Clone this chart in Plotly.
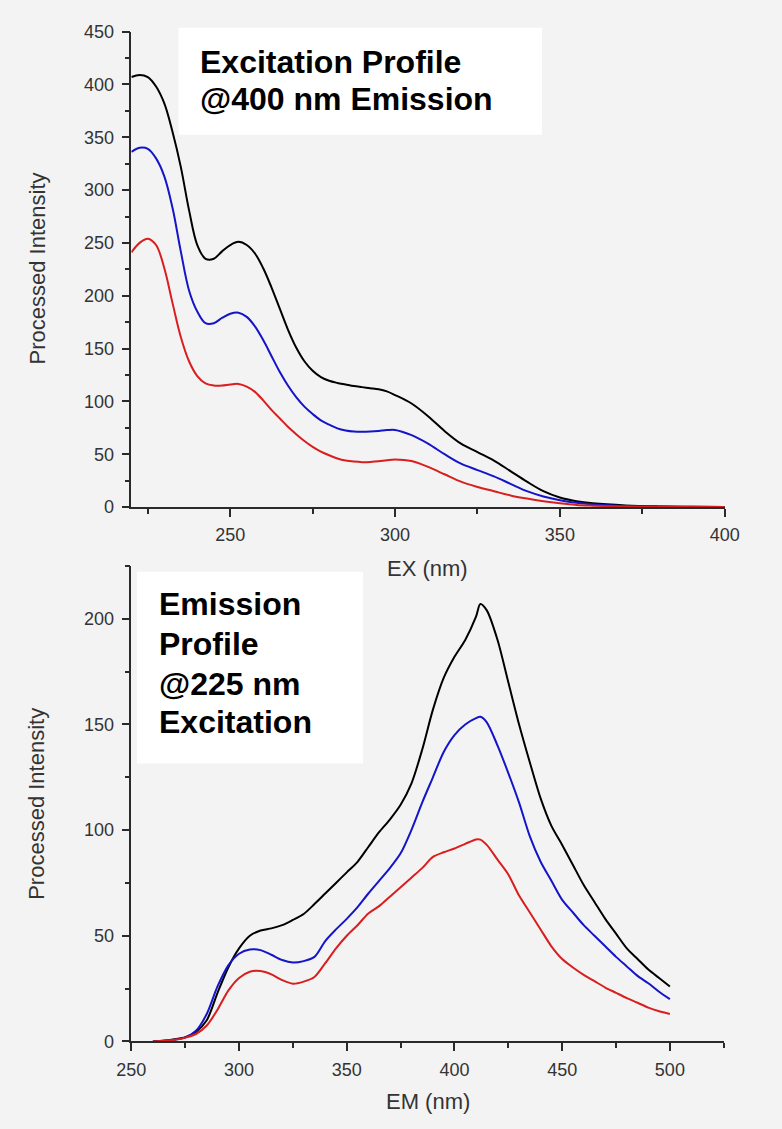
import plotly.graph_objects as go

# ---------------- Data: Excitation profile (@400 nm emission) ----------------
ex_nm = [220, 222.5, 225, 227.5, 230, 232.5, 235, 237.5, 240, 242.5, 245, 247.5,
         250, 252.5, 255, 257.5, 260, 262.5, 265, 267.5, 270, 272.5, 275, 277.5,
         280, 282.5, 285, 287.5, 290, 292.5, 295, 297.5, 300,
         305, 310, 315, 320, 325, 330, 335, 340, 345, 350, 355, 360, 370, 380,
         390, 400]
ex_black = [407, 409, 407, 398, 382, 355, 322, 281, 248, 235, 235, 242,
            248, 251, 248, 240, 226, 208, 188, 168, 151, 138, 129, 123,
            119.5, 117.5, 116, 114.5, 113.5, 112.5, 111.5, 109.5, 106,
            98, 86, 72, 60, 52, 44, 34, 24, 15, 9, 5.5, 3.5, 1.5, 0.6,
            0.2, 0]
ex_blue = [336, 340, 339, 330, 313, 283, 242, 205, 185, 174, 174, 179,
           183, 184, 180, 171, 158, 143, 128, 115, 104, 95, 88, 82,
           78, 74.5, 72.5, 71.5, 71.3, 71.5, 72, 72.8, 73,
           68, 60, 50, 41, 35, 29, 22, 15, 10, 6.5, 4, 2.5, 1, 0.4,
           0.2, 0]
ex_red = [241, 250, 254, 248, 226, 193, 161, 138, 124, 117, 115, 115,
          116, 116.5, 114, 109, 101, 92, 84, 76, 69, 62.5, 57, 52.5,
          49, 46, 44, 43, 42.5, 42.7, 43.3, 44.3, 45,
          43.5, 38, 31, 24, 19, 15, 11, 8, 5.5, 3.5, 2, 1.3, 0.5, 0.2,
          0.1, 0]

# ---------------- Data: Emission profile (@225 nm excitation) ----------------
em_nm = [260, 265, 270, 275, 280, 285, 290, 295, 300, 305, 310, 315, 320, 325,
         330, 335, 340, 345, 350, 355, 360, 365, 370, 375, 380, 385, 390, 395,
         400, 405, 410, 412, 415, 420, 425, 430, 435, 440, 445, 450, 455, 460,
         465, 470, 475, 480, 485, 490, 495, 500]
em_black = [0, 0.3, 1, 2, 4.5, 10, 23, 35, 44, 50, 52.5, 53.5, 55, 57.5,
            60.3, 65, 70, 75, 80, 85, 92, 99, 105, 112, 122, 138, 157, 172,
            182, 190, 201, 207, 204, 190, 170, 150, 132, 115, 102, 93, 83.5, 74,
            66, 58, 51, 44, 39, 34, 30, 26]
em_blue = [0, 0.3, 0.8, 1.8, 5, 13, 26, 36, 41.5, 43.5, 43.2, 41, 38.5, 37.3,
           38, 40, 47.5, 53, 58, 63.5, 70, 76, 82, 89, 100, 113, 125, 137,
           145, 150, 153, 153.6, 151, 140, 127, 113, 97, 85, 76, 67, 61, 55,
           50, 45, 40, 35.5, 31, 27.5, 23.5, 20]
em_red = [0, 0.3, 0.8, 1.8, 3.5, 7.5, 15, 24, 30, 33, 33.3, 31.7, 29, 27.3,
          28.3, 30.5, 37, 44, 50, 55, 60.5, 64, 68.5, 73, 77.5, 82, 87.3, 89.5,
          91.3, 93.5, 95.6, 95.5, 93, 86, 79, 69, 61, 53, 45, 39, 35, 31.5,
          28.5, 25.5, 23, 20.5, 18.3, 16, 14.3, 13]

series_colors = ["#000000", "#1414C8", "#D81E1E"]

W, H = 782, 1129
FONT = "Liberation Sans, Arial, sans-serif"


def px(x):
    return x / W


def py(y):
    return 1 - y / H


fig = go.Figure()
for ys, c in zip([ex_black, ex_blue, ex_red], series_colors):
    fig.add_trace(go.Scatter(x=ex_nm, y=ys, mode="lines", xaxis="x", yaxis="y",
                             line=dict(color=c, width=2, shape="spline", smoothing=1.0),
                             showlegend=False, hoverinfo="skip"))
for ys, c in zip([em_black, em_blue, em_red], series_colors):
    fig.add_trace(go.Scatter(x=em_nm, y=ys, mode="lines", xaxis="x2", yaxis="y2",
                             line=dict(color=c, width=2, shape="spline", smoothing=0.8),
                             showlegend=False, hoverinfo="skip"))

axis_common = dict(showline=True, linecolor="#2a2a2a", linewidth=1.5,
                   ticks="outside", ticklen=8, tickwidth=1.5, tickcolor="#2a2a2a",
                   showgrid=False, zeroline=False,
                   tickfont=dict(family=FONT, size=18, color="#333333"))
minor_common = dict(ticks="outside", ticklen=5, tickwidth=1.5, tickcolor="#2a2a2a")

fig.update_layout(
    width=W, height=H,
    margin=dict(l=0, r=0, t=0, b=0),
    paper_bgcolor="#f3f3f3", plot_bgcolor="#f3f3f3",
    xaxis=dict(domain=[px(121), px(738)], range=[220, 400], anchor="y",
               tickvals=[250, 300, 350, 400], ticklabelstandoff=3,
               minor=dict(tickvals=[225, 275, 325, 375], **minor_common),
               **axis_common),
    yaxis=dict(domain=[py(506), py(22)], range=[0, 450], anchor="x",
               tickvals=list(range(0, 451, 50)), ticklabelstandoff=4,
               minor=dict(dtick=25, **minor_common),
               **axis_common),
    xaxis2=dict(domain=[px(121), px(737)], range=[250, 525], anchor="y2",
                tickvals=[250, 300, 350, 400, 450, 500], ticklabelstandoff=3,
                minor=dict(dtick=25, **minor_common),
                **axis_common),
    yaxis2=dict(domain=[py(1050), py(566)], range=[0, 225], anchor="x2",
                tickvals=list(range(0, 201, 50)), ticklabelstandoff=4,
                minor=dict(dtick=25, **minor_common),
                **axis_common),
)

# white boxes behind the inset labels
fig.add_shape(type="rect", xref="paper", yref="paper",
              x0=px(170), x1=px(548), y0=py(127), y1=py(18),
              fillcolor="white", line=dict(width=0), layer="above")
fig.add_shape(type="rect", xref="paper", yref="paper",
              x0=px(127), x1=px(362), y0=py(767), y1=py(572),
              fillcolor="white", line=dict(width=0), layer="above")

label_font = dict(family=FONT, size=32, color="#000000")
top_lines = [("Excitation Profile", 53), ("@400 nm Emission", 91)]
for txt, yc in top_lines:
    fig.add_annotation(text=f"<b>{txt}</b>", xref="paper", yref="paper",
                       x=px(190), y=py(yc), xanchor="left", yanchor="middle",
                       showarrow=False, font=label_font)
bottom_lines = [("Emission", 605), ("Profile", 645), ("@225 nm", 686), ("Excitation", 725)]
for txt, yc in bottom_lines:
    fig.add_annotation(text=f"<b>{txt}</b>", xref="paper", yref="paper",
                       x=px(148), y=py(yc), xanchor="left", yanchor="middle",
                       showarrow=False, font=label_font)

# axis titles
title_font = dict(family=FONT, size=22, color="#333333")
for txt, x, y, ang in [("Processed Intensity", 23, 263, -90),
                       ("EX (nm)", 429, 569, 0),
                       ("Processed Intensity", 23, 808, -90),
                       ("EM (nm)", 429, 1111, 0)]:
    fig.add_annotation(text=txt, xref="paper", yref="paper", x=px(x), y=py(y),
                       xanchor="center", yanchor="middle", textangle=ang,
                       showarrow=False, font=title_font)

fig.write_html("out.html")
